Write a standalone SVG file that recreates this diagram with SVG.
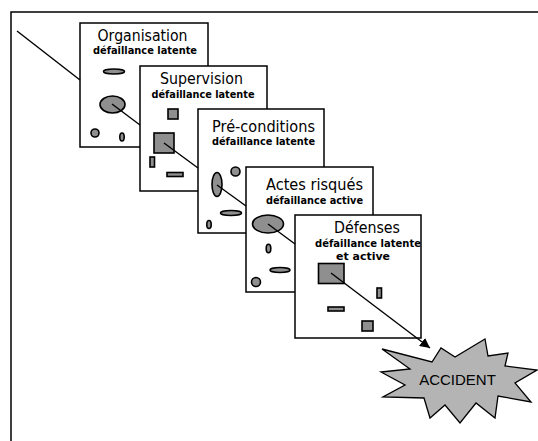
<svg xmlns="http://www.w3.org/2000/svg" width="538" height="441" viewBox="0 0 538 441">
  <style>
    .frame { fill: none; stroke: #000; stroke-width: 1.5; }
    .box { fill: #fff; stroke: #000; stroke-width: 1.5; }
    .title { font-family: "DejaVu Sans", sans-serif; font-size: 15.5px; fill: #000; text-anchor: middle; }
    .sub { font-family: "DejaVu Sans", sans-serif; font-size: 10.5px; font-weight: bold; fill: #000; text-anchor: middle; }
    .hole { fill: #8f8f8f; stroke: #000; stroke-width: 1.6; }
    .link { fill: none; stroke: #000; stroke-width: 1.4; }
    .star { fill: #b4b4b4; stroke: #000; stroke-width: 1.3; stroke-linejoin: miter; }
    .accident { font-family: "Liberation Sans", Arial, sans-serif; font-size: 15px; fill: #000; text-anchor: middle; }
  </style>
  <defs>
    <marker id="arrow" viewBox="0 0 10 10" refX="10" refY="5" markerWidth="10" markerHeight="10" markerUnits="userSpaceOnUse" orient="auto">
      <path d="M0,0 L10,5 L0,10 z" fill="#000"/>
    </marker>
  </defs>

  <rect width="538" height="441" fill="#fff"/>

  <!-- outer frame (top and left edges) -->
  <path class="frame" d="M11,441 V12 H538"/>

  <g id="organisation">
    <rect class="box" x="80" y="23" width="128" height="124"/>
    <text class="title" x="142.5" y="40.5" textLength="90" lengthAdjust="spacingAndGlyphs">Organisation</text>
    <text class="sub" x="145" y="53.5" textLength="104" lengthAdjust="spacingAndGlyphs">défaillance latente</text>
    <ellipse class="hole" cx="114" cy="71.5" rx="10.5" ry="2.5"/>
    <ellipse class="hole" cx="112.5" cy="104.5" rx="12.5" ry="8.5"/>
    <circle class="hole" cx="95" cy="133" r="4"/>
    <ellipse class="hole" cx="122" cy="137" rx="2.2" ry="4"/>
  </g>

  <g id="supervision">
    <rect class="box" x="140" y="66" width="127" height="125"/>
    <text class="title" x="201.5" y="83.5" textLength="83" lengthAdjust="spacingAndGlyphs">Supervision</text>
    <text class="sub" x="203" y="97.5" textLength="103" lengthAdjust="spacingAndGlyphs">défaillance latente</text>
    <rect class="hole" x="168" y="109" width="10" height="10"/>
    <rect class="hole" x="154" y="133" width="20" height="20"/>
    <rect class="hole" x="150" y="157" width="4.5" height="10"/>
    <rect class="hole" x="167" y="172.5" width="16" height="4"/>
  </g>

  <g id="pre-conditions">
    <rect class="box" x="198" y="109" width="126" height="124"/>
    <text class="title" x="263.5" y="131.5" textLength="103" lengthAdjust="spacingAndGlyphs">Pré-conditions</text>
    <text class="sub" x="263.5" y="145" textLength="103" lengthAdjust="spacingAndGlyphs">défaillance latente</text>
    <ellipse class="hole" cx="217" cy="184.5" rx="5" ry="12"/>
    <circle class="hole" cx="235.5" cy="171.5" r="4.5"/>
    <ellipse class="hole" cx="231" cy="213" rx="10.5" ry="2.5"/>
    <ellipse class="hole" cx="209" cy="224.5" rx="2.2" ry="4"/>
  </g>

  <g id="actes-risques">
    <rect class="box" x="246" y="167" width="127" height="125"/>
    <text class="title" x="314.5" y="190" textLength="97" lengthAdjust="spacingAndGlyphs">Actes risqués</text>
    <text class="sub" x="314.5" y="204" textLength="97" lengthAdjust="spacingAndGlyphs">défaillance active</text>
    <ellipse class="hole" cx="268" cy="224" rx="15.5" ry="9"/>
    <ellipse class="hole" cx="268.5" cy="248.5" rx="2.3" ry="4.3"/>
    <ellipse class="hole" cx="280" cy="270" rx="10" ry="2.5"/>
    <circle class="hole" cx="256" cy="282" r="4.5"/>
  </g>

  <g id="defenses">
    <rect class="box" x="295" y="215" width="126" height="123"/>
    <text class="title" x="367" y="232.5" textLength="66" lengthAdjust="spacingAndGlyphs">Défenses</text>
    <text class="sub" x="368" y="246.5" textLength="106" lengthAdjust="spacingAndGlyphs">défaillance latente</text>
    <text class="sub" x="363" y="260" textLength="54" lengthAdjust="spacingAndGlyphs">et active</text>
    <rect class="hole" x="318.5" y="263.5" width="25.5" height="20"/>
    <rect class="hole" x="377" y="288" width="4.5" height="10"/>
    <rect class="hole" x="328" y="307" width="16" height="4"/>
    <rect class="hole" x="362" y="321" width="11" height="10"/>
  </g>

  <g id="accident">
    <polygon class="star" points="382,349 432,362 441,348 455,357 485,339 488,356 508,353 505,366 537,370 515,383 531,402 498,396 495,418 476,403 460,423 445,405 430,418 424,398 383,397 405,385 381,372 410,369"/>
    <text class="accident" x="457.5" y="385">ACCIDENT</text>
  </g>

  <g id="connectors">
    <line class="link" x1="17" y1="31" x2="80" y2="80"/>
    <line class="link" x1="112" y1="104" x2="140" y2="125"/>
    <line class="link" x1="164" y1="143" x2="198" y2="168"/>
    <line class="link" x1="217" y1="185" x2="246" y2="206"/>
    <line class="link" x1="268" y1="224" x2="295" y2="244"/>
    <line class="link" x1="331" y1="273" x2="430" y2="348" marker-end="url(#arrow)"/>
  </g>
</svg>
